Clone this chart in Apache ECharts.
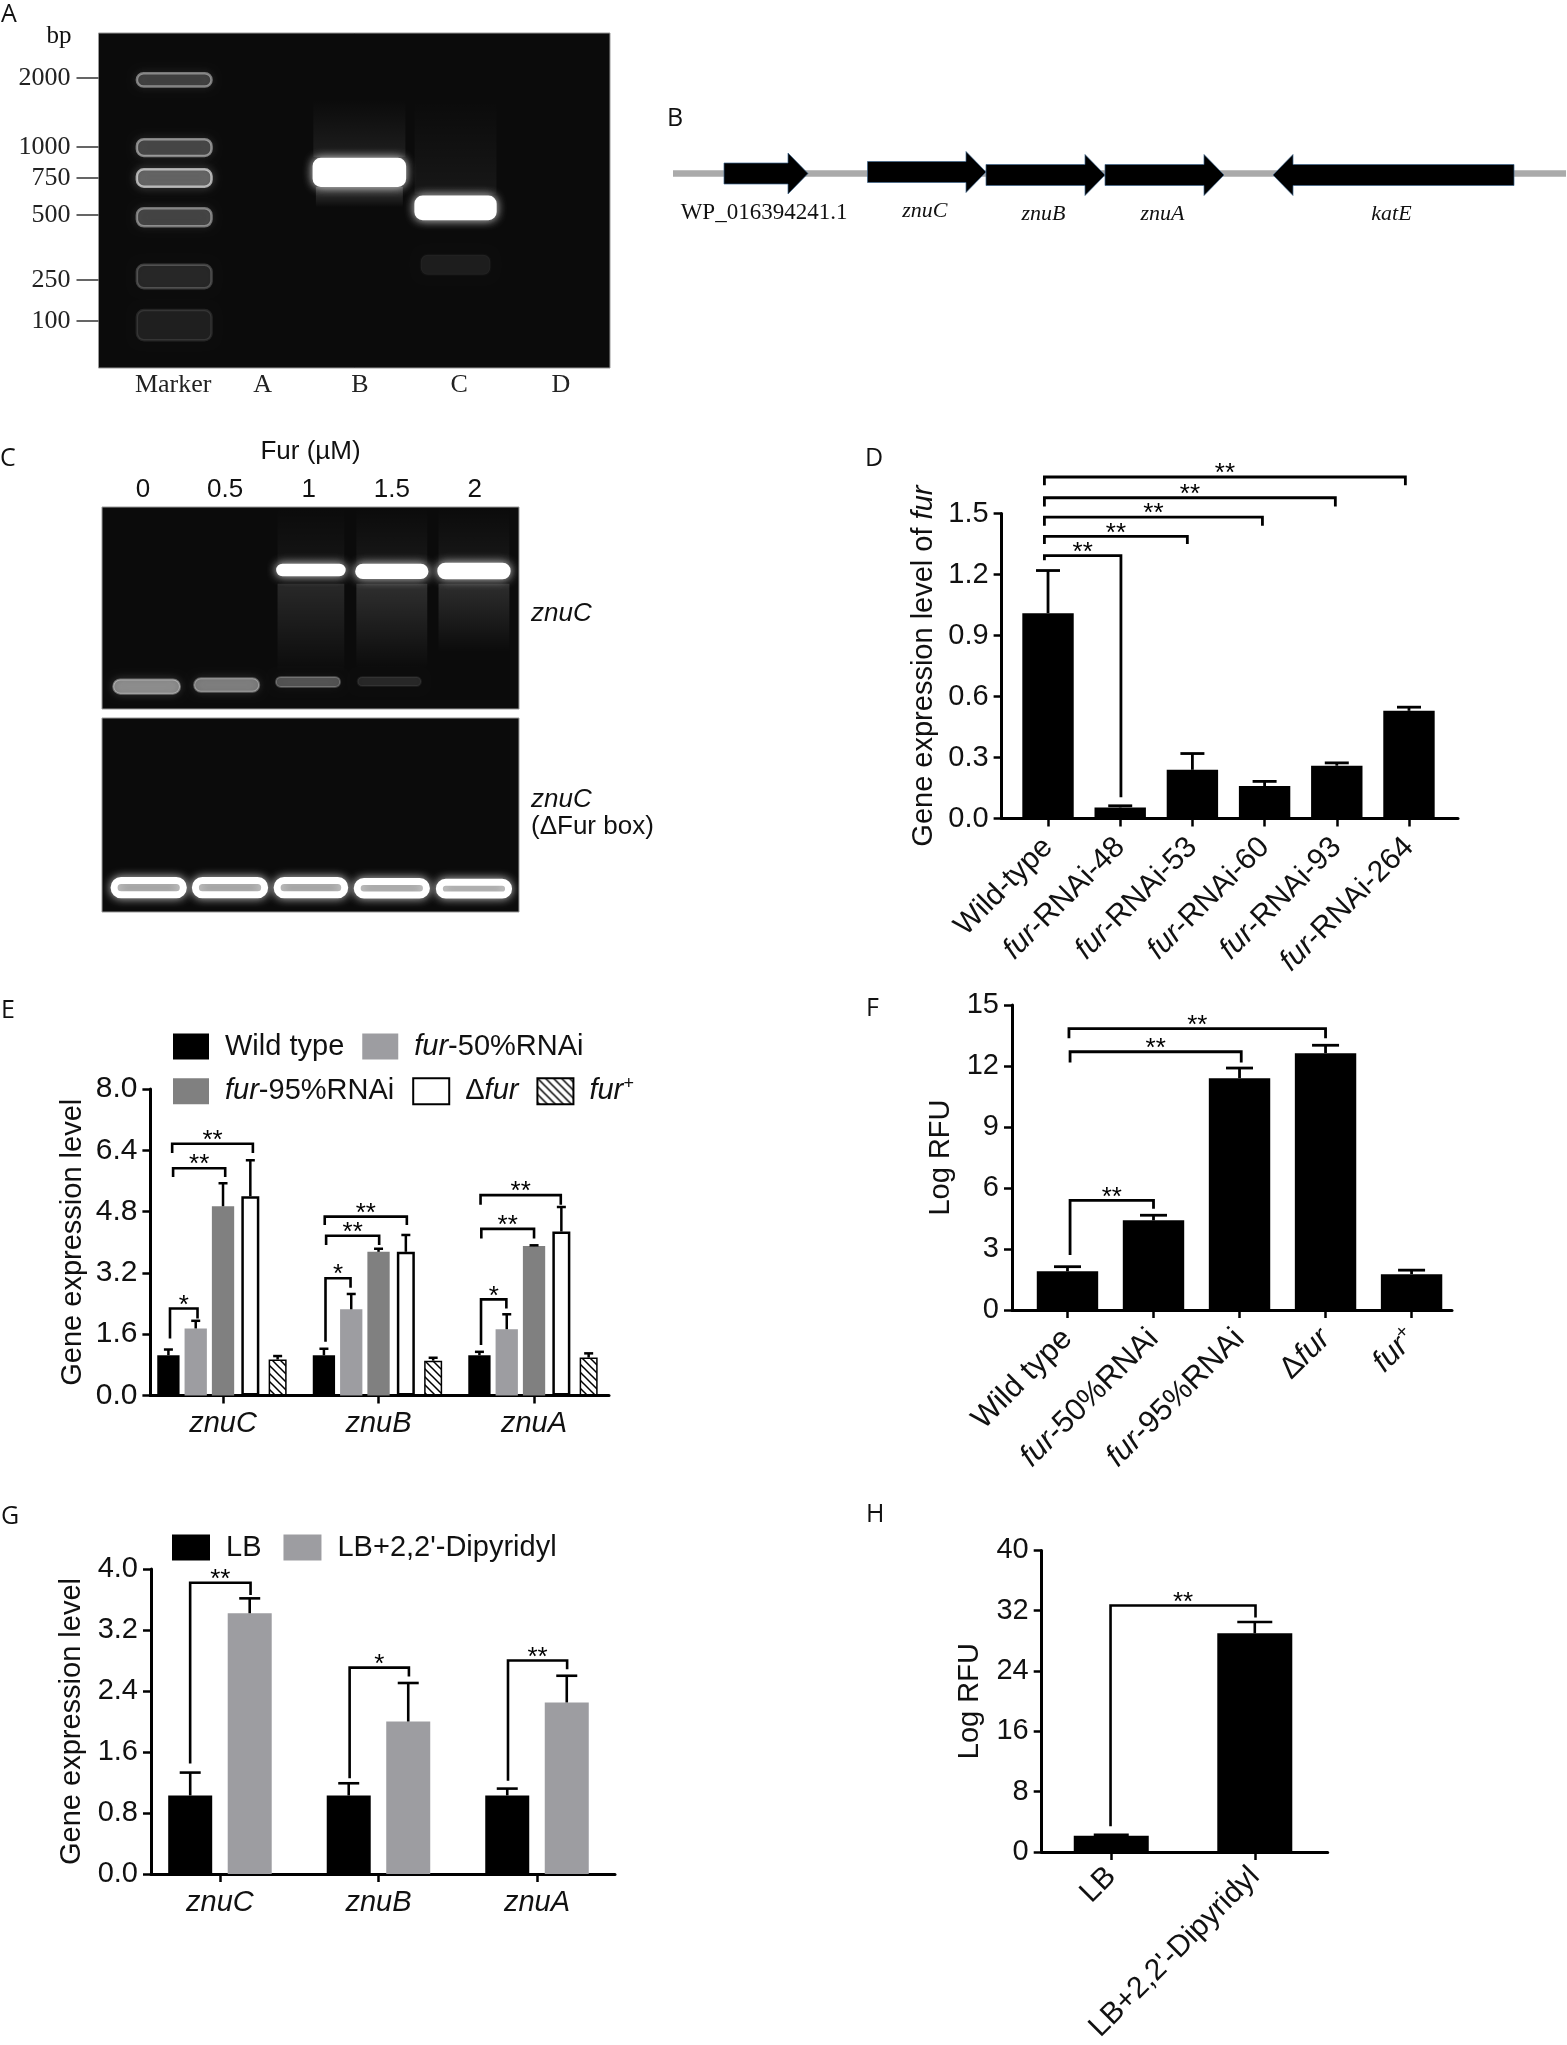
<!DOCTYPE html>
<html>
<head>
<meta charset="utf-8">
<style>
  html, body { margin: 0; padding: 0; background: #fff; }
  #main { width: 1567px; height: 2045px; }
</style>
<script src="https://cdn.jsdelivr.net/npm/echarts@6/dist/echarts.min.js"></script>
</head>
<body>
<div id="main"></div>
<script>
// panel A gel, positions in % of the gel box
var ladderBp = [2000, 1000, 750, 500, 250, 100];
var ladderPos = [13.4, 34, 43.3, 54.3, 73.7, 86];
var gelALanes = ['Marker', 'A', 'B', 'C', 'D'];
var gelALanePos = [14.6, 32.1, 51.1, 70.5, 90.4];
// x, y, width, height, fill alpha, edge alpha
var gelABands = [
  [14.8, 14, 14.6, 4, 0.16, 0.42],
  [14.8, 34.2, 14.6, 5, 0.18, 0.45],
  [14.8, 43.3, 14.6, 5.2, 0.26, 0.6],
  [14.8, 55, 14.6, 5.4, 0.18, 0.4],
  [14.8, 72.7, 14.6, 7, 0.1, 0.2],
  [14.8, 87.2, 14.6, 9, 0.08, 0.1],
  [51, 41.6, 17.8, 8, 1, 1],
  [69.8, 52.2, 15.6, 6.6, 1, 1],
  [69.8, 69.2, 13.6, 6, 0.07, 0.02]
];
// x, top, bottom, width, alpha top, alpha bottom
var gelASmears = [
  [51, 20, 37, 18, 0, 0.08],
  [51, 46, 52, 17, 0.2, 0],
  [69.8, 20, 48, 16, 0, 0.05]
];

// panel B
var geneNames = ['WP_016394241.1', 'znuC', 'znuB', 'znuA', 'katE'];
var geneStart = [51, 194.5, 313, 432, 841];
var geneEnd = [135, 313, 432, 551, 600];
var geneRow = [23.5, 22, 25, 25, 25];
var backbone = [[0, 23.5], [893, 23.5]];

// panel C gels
var furConc = ['0', '0.5', '1', '1.5', '2'];
var furLanePos = [9.8, 29.5, 49.6, 69.5, 89.4];
var gelCBands = [
  [50.1, 31.2, 16.2, 5.2, 1, 1],
  [69.5, 31.9, 17.1, 6.6, 1, 1],
  [89.2, 31.7, 17.1, 7.2, 1, 1],
  [10.7, 88.9, 16, 7, 0.45, 0.35],
  [29.9, 88.1, 15.6, 6.6, 0.4, 0.3],
  [49.4, 86.6, 15.4, 5, 0.26, 0.2],
  [68.9, 86.4, 15.2, 4.5, 0.11, 0.06]
];
var gelCSmears = [
  [50.1, 38, 82, 16, 0.12, 0],
  [69.5, 38, 80, 17, 0.15, 0],
  [89.2, 38, 72, 17, 0.14, 0],
  [50.1, 0, 28, 16, 0, 0.04],
  [69.5, 0, 28, 17, 0, 0.05],
  [89.2, 0, 28, 17, 0, 0.05]
];
var gelCBoxBands = [
  [11.2, 87.4, 16.6, 7.4, 0.3, 1],
  [30.7, 87.4, 16.6, 7.4, 0.3, 1],
  [50.1, 87.4, 16.2, 7.4, 0.3, 1],
  [69.5, 87.8, 16.6, 7, 0.3, 1],
  [89.2, 88, 16.6, 6.6, 0.3, 1]
];

// panel D
var dCategories = ['Wild-type', 'fur-RNAi-48', 'fur-RNAi-53', 'fur-RNAi-60', 'fur-RNAi-93', 'fur-RNAi-264'];
var dValues = [1.01, 0.055, 0.24, 0.16, 0.26, 0.53];
var dErrTop = [1.22, 0.063, 0.32, 0.183, 0.274, 0.548];
// x0, x1, top, left foot, right foot, label
var dBrackets = [
  [-0.05, 1.01, 1.293, 1.27, 0.105, '**'],
  [-0.05, 1.93, 1.388, 1.35, 1.35, '**'],
  [-0.05, 2.97, 1.483, 1.44, 1.44, '**'],
  [-0.05, 3.98, 1.578, 1.535, 1.535, '**'],
  [-0.05, 4.95, 1.68, 1.64, 1.64, '**']
];

// panel E
var genes = ['znuC', 'znuB', 'znuA'];
var eNames = ['Wild type', 'fur-50%RNAi', 'fur-95%RNAi', 'Δfur', 'fur+'];
var eWild = [1.05, 1.05, 1.05];
var eWildErr = [1.2, 1.22, 1.14];
var e50 = [1.75, 2.25, 1.73];
var e50Err = [1.95, 2.65, 2.12];
var e95 = [4.94, 3.75, 3.9];
var e95Err = [5.54, 3.83, 3.92];
var eDelta = [5.2, 3.75, 4.28];
var eDeltaErr = [6.14, 4.19, 4.92];
var ePlus = [0.94, 0.91, 0.99];
var ePlusErr = [1.03, 0.985, 1.1];
var eBrackets = [
  [-0.341, -0.164, 2.27, 1.49, 2.01, '*'],
  [-0.321, 0.014, 5.93, 5.7, 5.7, '**'],
  [-0.327, 0.192, 6.57, 6.33, 6.33, '**'],
  [0.659, 0.82, 3.06, 1.4, 2.81, '*'],
  [0.663, 1.004, 4.17, 3.93, 3.93, '**'],
  [0.654, 1.182, 4.67, 4.45, 4.45, '**'],
  [1.659, 1.822, 2.51, 1.32, 2.27, '*'],
  [1.661, 2, 4.35, 4.1, 4.1, '**'],
  [1.656, 2.172, 5.23, 4.98, 4.98, '**']
];

// panel F
var fCategories = ['Wild type', 'fur-50%RNAi', 'fur-95%RNAi', 'Δfur', 'fur+'];
var fValues = [1.9, 4.41, 11.4, 12.63, 1.76];
var fErrTop = [2.13, 4.66, 11.9, 13.02, 1.96];
var fBrackets = [
  [0.03, 1, 5.39, 2.7, 4.98, '**'],
  [0.03, 2.02, 12.7, 12.17, 12.17, '**'],
  [0.017, 3, 13.84, 13.37, 13.37, '**']
];

// panel G
var gLB = [1.03, 1.03, 1.03];
var gLBErr = [1.33, 1.19, 1.12];
var gDip = [3.42, 2, 2.25];
var gDipErr = [3.615, 2.505, 2.6];
var gBrackets = [
  [-0.188, 0.193, 3.82, 1.45, 3.66, '**'],
  [0.818, 1.192, 2.706, 1.255, 2.59, '*'],
  [1.817, 2.19, 2.8, 1.224, 2.684, '**']
];

// panel H
var hCategories = ['LB', 'LB+2,2\'-Dipyridyl'];
var hValues = [2.15, 29];
var hErrTop = [2.29, 30.5];
var hBrackets = [[-0.005, 1.005, 32.7, 3.43, 31.1, '**']];

var SANS = 'Liberation Sans';
var SERIF = 'Liberation Serif';
var chart = echarts.init(document.getElementById('main'));

var grids = [], xAxes = [], yAxes = [], series = [], legends = [];

function richStyles(size) {
  return {
    i: { fontFamily: SANS, fontStyle: 'italic', fontSize: size, color: '#111' },
    n: { fontFamily: SANS, fontSize: size, color: '#111' },
    sup: { fontFamily: SANS, fontStyle: 'italic', fontSize: size * 0.62, color: '#111', padding: [0, 0, size * 0.5, 0] }
  };
}

// italic gene names
function tagged(name) {
  if (name === 'fur+') return '{i|fur}{sup|+}';
  if (name === 'Δfur') return '{n|Δ}{i|fur}';
  if (name.indexOf('fur-') === 0) return '{i|fur}{n|' + name.slice(3) + '}';
  if (/^(znu|kat)/.test(name)) return '{i|' + name + '}';
  return '{n|' + name + '}';
}

function range(n) {
  var out = [];
  for (var i = 0; i < n; i++) out.push(i);
  return out;
}

function xAxisFor(gridIndex, cfg, hidden) {
  var ticks = range(cfg.labels.length);
  return {
    type: 'value', gridIndex: gridIndex, min: cfg.xMin, max: cfg.xMax, show: !hidden,
    splitLine: { show: false },
    axisLine: { onZero: false, lineStyle: { color: '#000', width: 3 } },
    axisTick: { customValues: ticks, length: 8, lineStyle: { color: '#000', width: 2.5 } },
    axisLabel: {
      customValues: ticks, rotate: cfg.rotate || 0, margin: cfg.labelMargin || 14,
      rich: richStyles(cfg.labelSize || 29),
      formatter: function (v) { return tagged(cfg.labels[v]); }
    }
  };
}

function addPanel(cfg) {
  var idx = grids.length;
  grids.push({ left: cfg.left, top: cfg.top, width: cfg.width, height: cfg.height, containLabel: false });
  xAxes.push(xAxisFor(idx, cfg));
  cfg.xIndex = xAxes.length - 1;
  yAxes.push({
    type: 'value', gridIndex: idx, min: 0, max: cfg.yMax, interval: cfg.yInterval,
    splitLine: { show: false },
    axisLine: { onZero: false, show: true, lineStyle: { color: '#000', width: 3 } },
    axisTick: { show: true, length: 8, lineStyle: { color: '#000', width: 2.5 } },
    axisLabel: {
      margin: 13, color: '#111', fontFamily: SANS, fontSize: cfg.tickSize,
      formatter: function (v) { return v.toFixed(cfg.yDecimals); }
    },
    name: cfg.yName, nameLocation: 'middle', nameGap: cfg.nameGap,
    nameTextStyle: { rich: richStyles(29) }
  });
  cfg.yIndex = yAxes.length - 1;
  cfg.grid = idx;
  return cfg;
}

function addBars(p, name, xs, ys, width, itemStyle, xIndex) {
  series.push({
    type: 'bar', name: name, xAxisIndex: xIndex === undefined ? p.xIndex : xIndex, yAxisIndex: p.yIndex,
    barWidth: width, barGap: '-100%', itemStyle: itemStyle, silent: true,
    data: xs.map(function (x, i) { return [x, ys[i]]; })
  });
}

function addErrors(p, xs, ys, tops, cap, lw) {
  series.push({
    type: 'custom', xAxisIndex: p.xIndex, yAxisIndex: p.yIndex, silent: true, z: 3,
    encode: { x: 0, y: [1, 2] },
    data: xs.map(function (x, i) { return [x, ys[i], tops[i]]; }),
    renderItem: function (params, api) {
      var a = api.coord([api.value(0), api.value(1)]);
      var b = api.coord([api.value(0), api.value(2)]);
      var st = { stroke: '#000', lineWidth: lw };
      return {
        type: 'group', children: [
          { type: 'line', shape: { x1: a[0], y1: a[1], x2: b[0], y2: b[1] }, style: st },
          { type: 'line', shape: { x1: b[0] - cap / 2, y1: b[1], x2: b[0] + cap / 2, y2: b[1] }, style: st }
        ]
      };
    }
  });
}

function addBrackets(p, rows, lw) {
  series.push({
    type: 'custom', xAxisIndex: p.xIndex, yAxisIndex: p.yIndex, silent: true, z: 4,
    encode: { x: 0, y: 2 },
    data: rows,
    renderItem: function (params, api) {
      var r = rows[params.dataIndex];
      var a = api.coord([r[0], r[3]]), b = api.coord([r[0], r[2]]);
      var c = api.coord([r[1], r[2]]), d = api.coord([r[1], r[4]]);
      return {
        type: 'group', children: [
          { type: 'polyline', shape: { points: [a, b, c, d] }, style: { stroke: '#000', fill: null, lineWidth: lw } },
          { type: 'text', style: { text: r[5], x: (b[0] + c[0]) / 2, y: b[1] + 10, align: 'center', verticalAlign: 'bottom', fill: '#000', font: '26px "Liberation Sans"' } }
        ]
      };
    }
  });
}

// gels: a dark grid with glowing rects placed by value
function addGel(left, top, width, height, xAxis, yAxis, bands, smears, edgeWidth) {
  var idx = grids.length;
  grids.push({ left: left, top: top, width: width, height: height, show: true, backgroundColor: '#0b0b0b', borderWidth: 1, borderColor: '#999' });
  xAxes.push(Object.assign({ type: 'value', gridIndex: idx, min: 0, max: 100, splitLine: { show: false }, axisLine: { show: false }, axisTick: { show: false } }, xAxis));
  yAxes.push(Object.assign({ type: 'value', gridIndex: idx, min: 0, max: 100, inverse: true, splitLine: { show: false }, axisLine: { show: false }, axisTick: { show: false }, axisLabel: { show: false } }, yAxis));
  var xi = xAxes.length - 1, yi = yAxes.length - 1;
  series.push({
    type: 'custom', xAxisIndex: xi, yAxisIndex: yi, silent: true, z: 2,
    encode: { x: 0, y: 1 },
    data: smears,
    renderItem: function (params, api) {
      var s = smears[params.dataIndex];
      var a = api.coord([s[0] - s[3] / 2, s[1]]), b = api.coord([s[0] + s[3] / 2, s[2]]);
      return {
        type: 'rect', shape: { x: a[0], y: a[1], width: b[0] - a[0], height: b[1] - a[1] },
        style: {
          fill: new echarts.graphic.LinearGradient(0, 0, 0, 1, [
            { offset: 0, color: 'rgba(255,255,255,' + s[4] + ')' },
            { offset: 1, color: 'rgba(255,255,255,' + s[5] + ')' }
          ])
        }
      };
    }
  });
  series.push({
    type: 'custom', xAxisIndex: xi, yAxisIndex: yi, silent: true, z: 3,
    encode: { x: 0, y: 1 },
    data: bands,
    renderItem: function (params, api) {
      var s = bands[params.dataIndex];
      var a = api.coord([s[0] - s[2] / 2, s[1] - s[3] / 2]), b = api.coord([s[0] + s[2] / 2, s[1] + s[3] / 2]);
      var glow = Math.max(s[4], s[5]);
      return {
        type: 'rect', shape: { x: a[0], y: a[1], width: b[0] - a[0], height: b[1] - a[1], r: 7 },
        style: {
          fill: 'rgba(255,255,255,' + s[4] + ')',
          stroke: 'rgba(255,255,255,' + s[5] + ')', lineWidth: edgeWidth,
          shadowBlur: 10, shadowColor: 'rgba(255,255,255,' + glow * 0.8 + ')'
        }
      };
    }
  });
}

// A
addGel(98.5, 33, 511.5, 335, {
  axisLabel: {
    customValues: gelALanePos, margin: 4, color: '#222', fontFamily: SERIF, fontSize: 26,
    formatter: function (v) { return gelALanes[gelALanePos.indexOf(v)]; }
  }
}, {
  axisTick: { show: true, customValues: ladderPos, length: 22, lineStyle: { color: '#333', width: 1.5 } },
  axisLabel: {
    show: true, customValues: ladderPos, margin: 28, color: '#222', fontFamily: SERIF, fontSize: 26,
    formatter: function (v) { return String(ladderBp[ladderPos.indexOf(v)]); }
  }
}, gelABands, gelASmears, 2.5);

// B gene map
var geneGrid = grids.length;
grids.push({ left: 673, top: 150, width: 893, height: 50 });
xAxes.push({ type: 'value', gridIndex: geneGrid, min: 0, max: 893, show: false });
yAxes.push({ type: 'value', gridIndex: geneGrid, min: 0, max: 50, inverse: true, show: false });
series.push({
  type: 'line', xAxisIndex: xAxes.length - 1, yAxisIndex: yAxes.length - 1, data: backbone,
  symbol: 'none', silent: true, lineStyle: { color: '#aaa', width: 6.5 }, z: 1
});
series.push({
  type: 'custom', xAxisIndex: xAxes.length - 1, yAxisIndex: yAxes.length - 1, silent: true, z: 3,
  encode: { x: [0, 1], y: 2 },
  data: geneNames.map(function (n, i) { return [geneStart[i], geneEnd[i], geneRow[i]]; }),
  renderItem: function (params, api) {
    var s = api.coord([api.value(0), api.value(2)]);
    var e = api.coord([api.value(1), api.value(2)]);
    var dir = e[0] > s[0] ? 1 : -1, neck = e[0] - dir * 20, y = s[1];
    var name = geneNames[params.dataIndex];
    return {
      type: 'group', children: [
        {
          type: 'polygon',
          shape: { points: [[s[0], y - 10.5], [neck, y - 10.5], [neck, y - 20.5], [e[0], y], [neck, y + 20.5], [neck, y + 10.5], [s[0], y + 10.5]] },
          style: { fill: '#000', stroke: 'rgba(60,100,140,0.7)', lineWidth: 1 }
        },
        {
          type: 'text',
          style: {
            text: name, x: (s[0] + e[0]) / 2 - 2, y: y + 39, align: 'center', verticalAlign: 'middle', fill: '#111',
            font: (name.indexOf('WP') === 0 ? '23px' : 'italic 22px') + ' "Liberation Serif"'
          }
        }
      ]
    };
  }
});

// C
addGel(102, 507, 417, 202, {
  position: 'top',
  axisLabel: {
    customValues: furLanePos, margin: 4, color: '#111', fontFamily: SANS, fontSize: 26,
    formatter: function (v) { return furConc[furLanePos.indexOf(v)]; }
  },
  name: 'Fur (µM)', nameLocation: 'middle', nameGap: 42,
  nameTextStyle: { color: '#111', fontFamily: SANS, fontSize: 26 }
}, {}, gelCBands, gelCSmears, 2);
addGel(102, 718, 417, 194, { axisLabel: { show: false } }, {}, gelCBoxBands, [], 7);

// D
var pD = addPanel({
  left: 1001.6, top: 513.6, width: 456.4, height: 305, xMin: -0.643, xMax: 5.679,
  labels: dCategories, rotate: 45, labelMargin: 24, labelSize: 30, tickSize: 29,
  yMax: 1.5, yInterval: 0.3, yDecimals: 1, yName: '{n|Gene expression level of }{i|fur}', nameGap: 63
});
addBars(pD, 'D', range(6), dValues, 51.4, { color: '#000' });
addErrors(pD, range(6), dValues, dErrTop, 24, 2.8);
addBrackets(pD, dBrackets, 2.8);

// E, white and hatched bars are narrower so they sit on a second x axis
var hatch = document.createElement('canvas');
hatch.width = hatch.height = 8;
var hctx = hatch.getContext('2d');
hctx.fillStyle = '#fff';
hctx.fillRect(0, 0, 8, 8);
hctx.strokeStyle = '#000';
hctx.lineWidth = 1.5;
hctx.beginPath();
hctx.moveTo(-2, -2); hctx.lineTo(10, 10);
hctx.moveTo(-2, 6); hctx.lineTo(2, 10);
hctx.moveTo(6, -2); hctx.lineTo(10, 2);
hctx.stroke();

var pE = addPanel({
  left: 150.4, top: 1089, width: 458.6, height: 306.5, xMin: -0.467, xMax: 2.482,
  labels: genes, labelMargin: 14, tickSize: 30,
  yMax: 8, yInterval: 1.6, yDecimals: 1, yName: '{n|Gene expression level}', nameGap: 63
});
xAxes.push(xAxisFor(pE.grid, { xMin: pE.xMin, xMax: pE.xMax, labels: genes }, true));
var eNarrowAxis = xAxes.length - 1;
var slot = 0.1756;
function slotX(s) { return range(3).map(function (g) { return g + (s - 2) * slot; }); }
addBars(pE, eNames[0], slotX(0), eWild, 22.3, { color: '#000' });
addBars(pE, eNames[1], slotX(1), e50, 22.3, { color: '#9d9da1' });
addBars(pE, eNames[2], slotX(2), e95, 22.3, { color: '#808080' });
addBars(pE, eNames[3], slotX(3), eDelta, 18, { color: '#fff', borderColor: '#000', borderWidth: 2.5 }, eNarrowAxis);
addBars(pE, eNames[4], slotX(4), ePlus, 18, { color: { image: hatch, repeat: 'repeat' }, borderColor: '#000', borderWidth: 1.5 }, eNarrowAxis);
addErrors(pE, slotX(0), eWild, eWildErr, 9, 2.5);
addErrors(pE, slotX(1), e50, e50Err, 9, 2.5);
addErrors(pE, slotX(2), e95, e95Err, 9, 2.5);
addErrors(pE, slotX(3), eDelta, eDeltaErr, 9, 2.5);
addErrors(pE, slotX(4), ePlus, ePlusErr, 9, 2.5);
addBrackets(pE, eBrackets, 2.6);

function legendFor(names, left, top, gap, textGap, itemW, itemH) {
  var rs = richStyles(29);
  return {
    data: names, left: left, top: top, icon: 'rect', orient: 'horizontal', padding: 0,
    itemWidth: itemW || 36, itemHeight: itemH || 26, itemGap: gap, selectedMode: false,
    formatter: function (n) { return '{pad|}' + tagged(n); },
    textStyle: { rich: Object.assign(rs, { pad: { width: textGap } }) }
  };
}
legends.push(legendFor([eNames[0], eNames[1]], 173, 1032, 18, 11));
legends.push(legendFor([eNames[2], eNames[3], eNames[4]], 173, 1075, 18, 11));

// F
var pF = addPanel({
  left: 1012, top: 1005, width: 440, height: 305, xMin: -0.645, xMax: 4.47,
  labels: fCategories, rotate: 45, labelMargin: 24, labelSize: 31, tickSize: 29,
  yMax: 15, yInterval: 3, yDecimals: 0, yName: '{n|Log RFU}', nameGap: 57
});
addBars(pF, 'F', range(5), fValues, 61.4, { color: '#000' });
addErrors(pF, range(5), fValues, fErrTop, 27, 2.8);
addBrackets(pF, fBrackets, 2.8);

// G
var pG = addPanel({
  left: 151, top: 1569, width: 464, height: 305, xMin: -0.435, xMax: 2.492,
  labels: genes, labelMargin: 14, tickSize: 29,
  yMax: 4, yInterval: 0.8, yDecimals: 1, yName: '{n|Gene expression level}', nameGap: 65
});
var gLeft = range(3).map(function (g) { return g - 0.1877; });
var gRight = range(3).map(function (g) { return g + 0.1877; });
addBars(pG, 'LB', gLeft, gLB, 44, { color: '#000' });
addBars(pG, 'LB+2,2\'-Dipyridyl', gRight, gDip, 44, { color: '#9d9da1' });
addErrors(pG, gLeft, gLB, gLBErr, 21, 2.6);
addErrors(pG, gRight, gDip, gDipErr, 21, 2.6);
addBrackets(pG, gBrackets, 2.6);
legends.push(legendFor(['LB', 'LB+2,2\'-Dipyridyl'], 172, 1533, 22, 11, 38, 26));

// H
var pH = addPanel({
  left: 1041.7, top: 1550.4, width: 286, height: 304.1, xMin: -0.4846, xMax: 1.508,
  labels: hCategories, rotate: 45, labelMargin: 20, labelSize: 30, tickSize: 29,
  yMax: 40, yInterval: 8, yDecimals: 0, yName: '{n|Log RFU}', nameGap: 57
});
addBars(pH, 'H', [0, 1], hValues, 75, { color: '#000' });
addErrors(pH, [0, 1], hValues, hErrTop, 35, 2.6);
addBrackets(pH, hBrackets, 2.6);

function txt(text, x, y, font, align) {
  return {
    type: 'text', x: x, y: y, silent: true, z: 10,
    style: { text: text, font: font, fill: '#111', align: align || 'left', verticalAlign: 'middle' }
  };
}
var LETTER = '25px "Open Sans"';
var ITALIC = 'italic 26px "Liberation Sans"';
var panelText = [
  txt('A', 1, 15, LETTER), txt('B', 667, 119, LETTER), txt('C', 0, 459, LETTER), txt('D', 865, 459, LETTER),
  txt('E', 1, 1011, LETTER), txt('F', 866, 1009, LETTER), txt('G', 1, 1517, LETTER), txt('H', 866, 1515, LETTER),
  txt('bp', 59, 36, '25px "Liberation Serif"', 'center'),
  txt('znuC', 531, 614, ITALIC), txt('znuC', 531, 800, ITALIC),
  txt('(ΔFur box)', 531, 827, '26px "Liberation Sans"')
];

chart.setOption({
  animation: false,
  grid: grids, xAxis: xAxes, yAxis: yAxes, series: series, legend: legends,
  graphic: panelText
});
</script>
</body>
</html>
